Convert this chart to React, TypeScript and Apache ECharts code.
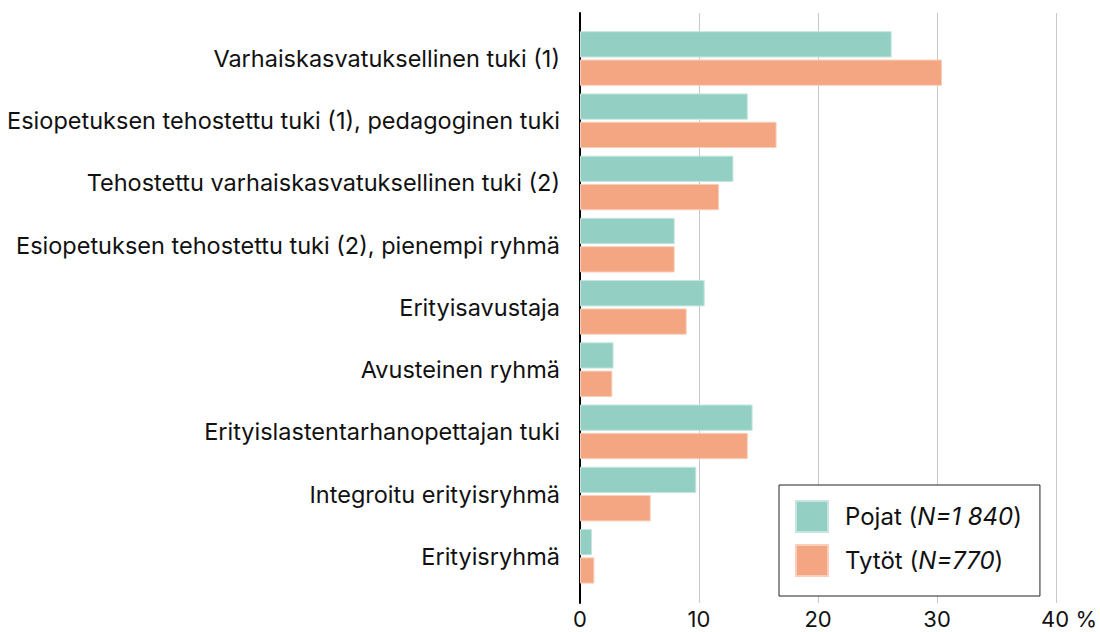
import React, { useEffect, useRef } from "react";
import * as echarts from "echarts";

const categories = [
  "Varhaiskasvatuksellinen tuki (1)",
  "Esiopetuksen tehostettu tuki (1), pedagoginen tuki",
  "Tehostettu varhaiskasvatuksellinen tuki (2)",
  "Esiopetuksen tehostettu tuki (2), pienempi ryhmä",
  "Erityisavustaja",
  "Avusteinen ryhmä",
  "Erityislastentarhanopettajan tuki",
  "Integroitu erityisryhmä",
  "Erityisryhmä",
];
const pojat = [26.0, 14.0, 12.8, 7.9, 10.4, 2.8, 14.4, 9.7, 1.0];
const tytot = [30.2, 16.4, 11.6, 7.9, 8.9, 2.7, 14.0, 5.9, 1.2];
const seriesNames = ["Pojat", "Tytöt"];
const seriesN = ["1 840", "770"];
const xTicks = [0, 10, 20, 30, 40];

const FONT = "Inter, Roboto, 'Noto Sans', sans-serif";

export default function App() {
  const ref = useRef<HTMLDivElement>(null);
  useEffect(() => {
    document.body.style.margin = "0";
    const chart = echarts.init(ref.current!, null, { renderer: "svg" });
    const xMin = xTicks[0];
    const xMax = xTicks[xTicks.length - 1];
    chart.setOption({
      animation: false,
      textStyle: { fontFamily: FONT },
      grid: [
        { left: 580, right: 40.5, top: 27.4, bottom: 44.6 },
        { left: 580, right: 40.5, top: 13, bottom: 29 },
      ],
      xAxis: [
        { type: "value", gridIndex: 0, min: xMin, max: xMax, interval: 10, show: false },
        {
          type: "value",
          gridIndex: 1,
          min: xMin,
          max: xMax,
          interval: 10,
          axisLine: { show: false },
          axisTick: { show: false },
          splitLine: { show: true, lineStyle: { color: "#c8c8c8", width: 1 } },
          axisLabel: {
            margin: 5,
            fontSize: 22,
            lineHeight: 22,
            color: "#111",
            fontFamily: FONT,
            formatter: (v: number) => (v === xMax ? "{p|" + v + " %}" : String(v)),
            rich: { p: { fontSize: 22, lineHeight: 22, color: "#111", fontFamily: FONT, padding: [0, 0, 0, 26] } },
          },
        },
      ],
      yAxis: [
        {
          type: "category",
          gridIndex: 0,
          inverse: true,
          data: categories,
          axisLine: { show: false },
          axisTick: { show: false },
          splitLine: { show: false },
          axisLabel: { margin: 20, fontSize: 23.5, color: "#111", fontFamily: FONT },
        },
        {
          type: "value",
          gridIndex: 1,
          min: 0,
          max: 1,
          axisLine: { show: true, onZero: false, lineStyle: { color: "#000", width: 2 } },
          axisTick: { show: false },
          axisLabel: { show: false },
          splitLine: { show: false },
        },
      ],
      legend: {
        orient: "vertical",
        left: 779,
        top: 485,
        data: seriesNames,
        backgroundColor: "#fff",
        borderColor: "#222",
        borderWidth: 1,
        padding: [15, 18, 19, 16],
        itemWidth: 32,
        itemHeight: 31,
        itemGap: 11,
        icon: "rect",
        formatter: (name: string) => {
          const i = seriesNames.indexOf(name);
          return name + " ({i|N=" + seriesN[i] + "})";
        },
        textStyle: {
          fontSize: 24,
          color: "#111",
          fontFamily: FONT,
          padding: [0, 0, 0, 12],
          rich: { i: { fontSize: 24, fontStyle: "italic", color: "#111", fontFamily: FONT } },
        },
      },
      series: [
        {
          name: seriesNames[0],
          type: "bar",
          xAxisIndex: 0,
          yAxisIndex: 0,
          data: pojat,
          barCategoryGap: "12.2%",
          barGap: "7.6%",
          itemStyle: { color: "#93d0c3", borderColor: "#c4e6de", borderWidth: 1 },
        },
        {
          name: seriesNames[1],
          type: "bar",
          xAxisIndex: 0,
          yAxisIndex: 0,
          data: tytot,
          barCategoryGap: "12.2%",
          barGap: "7.6%",
          itemStyle: { color: "#f4a683", borderColor: "#f9cfbb", borderWidth: 1 },
        },
      ],
    });
    return () => chart.dispose();
  }, []);
  return <div ref={ref} style={{ width: 1100, height: 632 }} />;
}
